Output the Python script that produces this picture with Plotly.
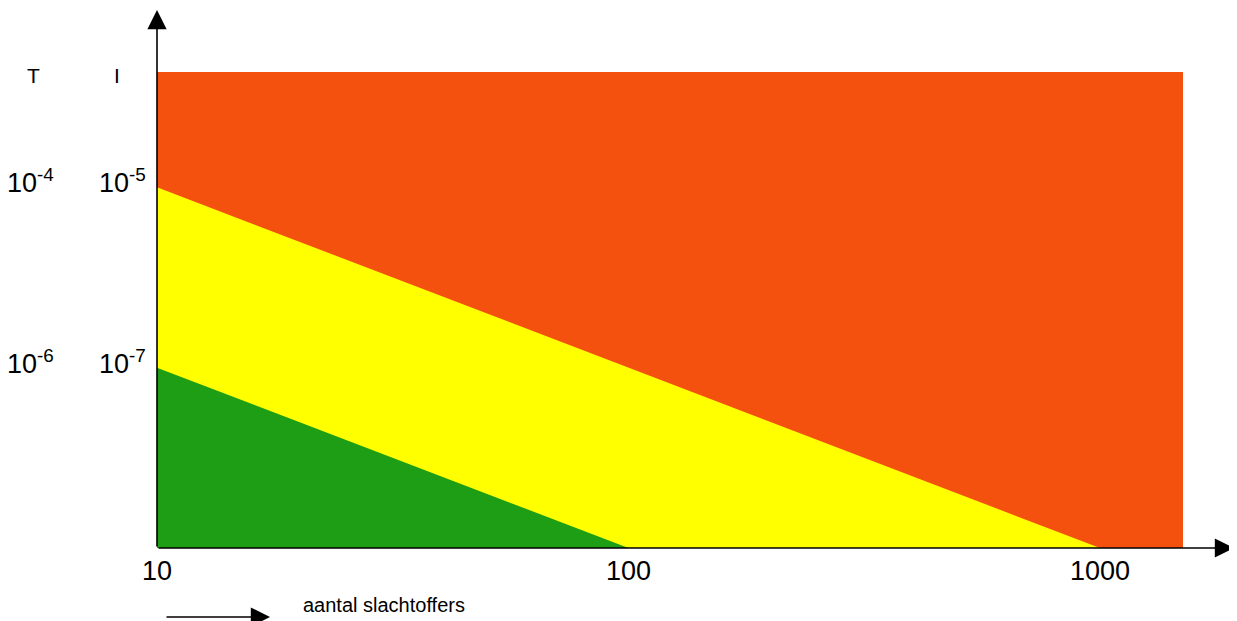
import math
import plotly.graph_objects as go

# Data (log-log risk diagram)
x_range = [10, 1500]
y_range = [1e-9, 1.9e-4]
red_x = [10, 1500, 1500, 10]
red_y = [1.9e-4, 1.9e-4, 1e-9, 1e-9]
yellow_x = [10, 1000, 10]
yellow_y = [1e-5, 1e-9, 1e-9]
green_x = [10, 100, 10]
green_y = [1e-7, 1e-9, 1e-9]

x_ticks = [10, 100, 1000]
x_tick_labels = ["10", "100", "1000"]
y_ticks = [1e-5, 1e-7]
y_labels_I = ["10<sup>-5</sup>", "10<sup>-7</sup>"]
y_labels_T = ["10<sup>-4</sup>", "10<sup>-6</sup>"]
col_headers = ["T", "I"]
x_title = "aantal slachtoffers"

RED = "#F4500E"
YELLOW = "#FFFF00"
GREEN = "#1E9E14"

OFF = 8  # page body margin offset
W, H = 1237, 621
PL, PR, PT, PB = 157, 1183, 72, 548   # desired plot-area edges on screen
L, T = PL - OFF, PT - OFF
R = W - (PR - OFF)
B = H - (PB - OFF)
pw, ph = PR - PL, PB - PT


def px(xs):
    return (xs - PL) / pw


def py(ys):
    return (PB - ys) / ph


fig = go.Figure()
for xs, ys, col in [(red_x, red_y, RED), (yellow_x, yellow_y, YELLOW), (green_x, green_y, GREEN)]:
    fig.add_trace(go.Scatter(x=xs, y=ys, fill="toself", fillcolor=col,
                             line=dict(width=0), mode="lines", hoverinfo="skip"))

fig.update_xaxes(type="log", range=[math.log10(x_range[0]), math.log10(x_range[1])],
                 showgrid=False, zeroline=False, showticklabels=False, ticks="",
                 showline=False)
fig.update_yaxes(type="log", range=[math.log10(y_range[0]), math.log10(y_range[1])],
                 showgrid=False, zeroline=False, showticklabels=False, ticks="",
                 showline=False)

FAM = "Liberation Sans, Arial"
font = dict(family=FAM, size=27, color="black")
ann = []
for xv, lab in zip(x_ticks, x_tick_labels):
    ann.append(dict(x=math.log10(xv), xref="x", y=py(571), yref="paper", text=lab,
                    showarrow=False, font=font, xanchor="center", yanchor="middle"))
for yv, li, lt in zip(y_ticks, y_labels_I, y_labels_T):
    ann.append(dict(x=px(122), xref="paper", y=math.log10(yv), yref="y", text=li,
                    showarrow=False, font=font, xanchor="center", yanchor="middle",
                    yshift=6))
    ann.append(dict(x=px(30), xref="paper", y=math.log10(yv), yref="y", text=lt,
                    showarrow=False, font=font, xanchor="center", yanchor="middle",
                    yshift=6))
for xp, txt in zip([33, 117], col_headers):
    ann.append(dict(x=px(xp), xref="paper", y=py(76), yref="paper",
                    text=txt, showarrow=False, font=dict(family=FAM, size=21, color="black"),
                    xanchor="center", yanchor="middle"))
ann.append(dict(x=px(384), xref="paper", y=py(605), yref="paper",
                text=x_title, showarrow=False,
                font=dict(family=FAM, size=20, color="black"),
                xanchor="center", yanchor="middle"))
# axis arrows
AH = dict(showarrow=True, arrowhead=2, arrowsize=2.4, arrowwidth=1.6,
          arrowcolor="black", text="")
ann.append(dict(x=0, xref="paper", y=py(10), yref="paper", ax=0, ay=PB - 10, **AH))
ann.append(dict(x=px(1234), xref="paper", y=0, yref="paper", ax=-(1234 - PL), ay=0, **AH))
ann.append(dict(x=px(270), xref="paper", y=py(617), yref="paper", ax=-105, ay=0, **AH))

fig.update_layout(width=W, height=H, margin=dict(l=L, r=R, t=T, b=B),
                  paper_bgcolor="white", plot_bgcolor="white", showlegend=False,
                  annotations=ann)
fig.write_html("out.html")
